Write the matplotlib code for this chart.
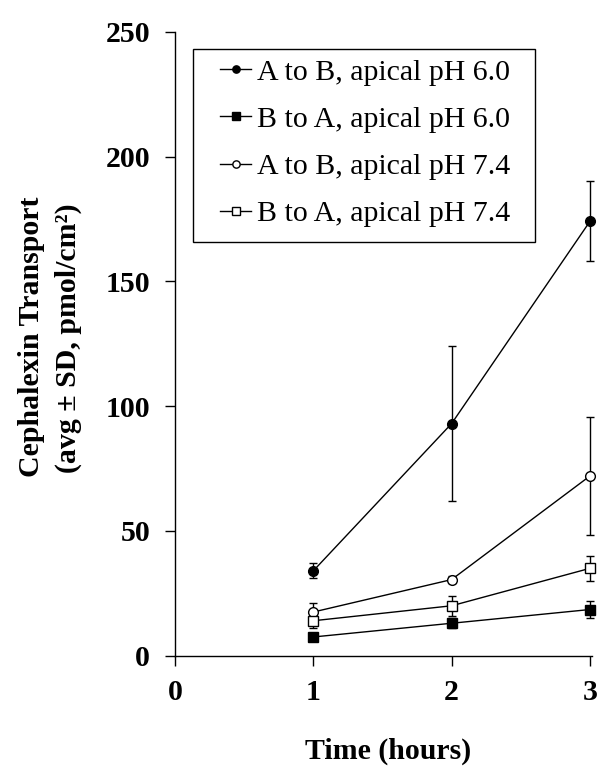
import matplotlib
matplotlib.use("Agg")
import matplotlib.pyplot as plt
from matplotlib.patches import Rectangle

plt.rcParams['font.family'] = ['Liberation Serif', 'DejaVu Serif']

# time points (hours)
times = [1, 2, 3]

# A to B, apical pH 6.0
ab_60 = [34, 93, 174]
ab_60_sd = [3, 31, 16]
# B to A, apical pH 6.0
ba_60 = [7.5, 13, 18.5]
ba_60_sd = [1, 2, 3.5]
# A to B, apical pH 7.4
ab_74 = [17.5, 30.5, 72]
ab_74_sd = [3.5, 1.5, 23.5]
# B to A, apical pH 7.4
ba_74 = [14, 20, 35]
ba_74_sd = [3, 4, 5]

labels = ["A to B, apical pH 6.0", "B to A, apical pH 6.0",
          "A to B, apical pH 7.4", "B to A, apical pH 7.4"]

x_ticks = [0, 1, 2, 3]
y_ticks = [0, 50, 100, 150, 200, 250]

FS = 21.5
W, H = 599, 768

fig = plt.figure(figsize=(W / 100, H / 100), dpi=100)
ax = fig.add_axes([175 / W, 1 - 655.7 / H, (592 - 175) / W, (655.7 - 31.7) / H])

series = [(ab_60, ab_60_sd, 'o', 'black'),
          (ba_60, ba_60_sd, 's', 'black'),
          (ab_74, ab_74_sd, 'o', 'white'),
          (ba_74, ba_74_sd, 's', 'white')]

handles = []
for (vals, sd, mk, fc), lab in zip(series, labels):
    h = ax.errorbar(times, vals, yerr=sd, color='black', marker=mk, markersize=7,
                    markerfacecolor=fc, markeredgecolor='black', markeredgewidth=1,
                    linewidth=1, elinewidth=1, capsize=3.2, capthick=1, label=lab,
                    clip_on=False, zorder=3)
    handles.append(h[0])  # line + marker only for the legend

ax.set_xlim(0, 3.015)
ax.set_ylim(0, 250)
ax.set_xticks(x_ticks)
ax.set_yticks(y_ticks)
ax.spines['top'].set_visible(False)
ax.spines['right'].set_visible(False)
ax.spines['left'].set_linewidth(1)
ax.spines['bottom'].set_linewidth(1)
ax.tick_params(axis='y', direction='out', length=7, width=1, pad=11)
ax.tick_params(axis='x', direction='out', length=7, width=1, pad=10)
for t in ax.get_xticklabels() + ax.get_yticklabels():
    t.set_fontsize(FS)
    t.set_fontweight('bold')

fig.text(388 / W, 1 - 751 / H, "Time (hours)", fontsize=FS, fontweight='bold',
         ha='center', va='center')
fig.text(32 / W, 1 - 337 / H, "Cephalexin Transport", fontsize=FS, fontweight='bold',
         ha='center', va='center', rotation=90)
fig.text(68 / W, 1 - 338 / H, "(avg \u00b1 SD, pmol/cm\u00b2)", fontsize=FS, fontweight='bold',
         ha='center', va='center', rotation=90)

# legend frame
x0 = (193 - 175) / 417
x1 = (535 - 175) / 417
yt = (655.7 - 49) / 624
yb = (655.7 - 241.7) / 624
ax.add_patch(Rectangle((x0, yb), x1 - x0, yt - yb, transform=ax.transAxes,
                       fill=False, edgecolor='black', linewidth=1, clip_on=False))

leg = ax.legend(handles=handles, labels=labels, loc='center left',
                bbox_to_anchor=((220 - 175) / 417, (655.7 - 143) / 624),
                frameon=False, fontsize=FS, borderpad=0, borderaxespad=0,
                handlelength=1.05, handletextpad=0.2, labelspacing=0.68,
                markerscale=0.75)

fig.savefig("out.png", dpi=100)
